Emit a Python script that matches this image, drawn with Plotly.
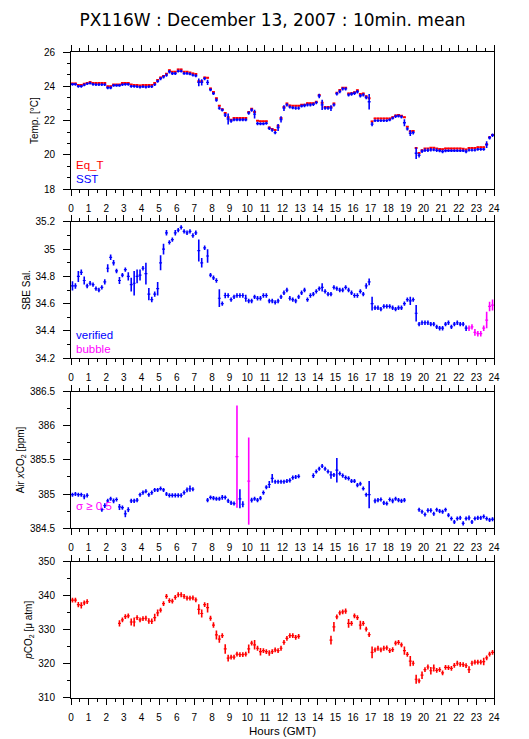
import plotly.graph_objects as go

# ---------------- data (10-minute means, 144 slots per day) ----------------
slot_hours = [(k + 0.5) / 6 for k in range(144)]
slot_half_width = [1 / 12] * 144   # each mean covers 10 minutes

eq_t = [
    24.17, 24.17, 24.08, 24.08, 24.15, 24.20,
    24.25, 24.20, 24.20, 24.20, 24.20, 24.20,
    24.00, 24.00, 24.10, 24.10, 24.10, 24.20,
    24.20, 24.20, 24.10, 24.08, 24.08, 24.05,
    24.07, 24.07, 24.07, 24.07, 24.20, 24.37,
    24.52, 24.60, 24.73, 24.94, 24.85, 24.85,
    24.98, 24.98, 24.85, 24.85, 24.80, 24.75,
    24.72, 24.30, 24.30, 24.52, 24.50, 23.87,
    23.67, 23.30, 22.87, 22.67, 22.45, 22.20,
    22.05, 22.15, 22.15, 22.15, 22.15, 22.15,
    22.50, 22.70, 22.50, 22.00, 21.96, 21.96,
    21.96, 21.60, 21.52, 21.45, 21.70, 22.15,
    22.80, 23.00, 22.88, 22.87, 22.87, 22.87,
    22.93, 22.93, 23.02, 23.02, 23.02, 23.10,
    23.50, 23.04, 22.80, 22.80, 22.80, 23.00,
    23.63, 23.78, 23.92, 23.92, 23.58, 23.60,
    23.65, 23.77, 23.55, 23.58, 23.42, 23.30,
    21.95, 22.13, 22.13, 22.13, 22.13, 22.13,
    22.13, 22.20, 22.30, 22.33, 22.28, 22.20,
    21.65, 21.38, 21.40, 20.40, 20.12, 20.27,
    20.37, 20.37, 20.42, 20.42, 20.37, 20.35,
    20.33, 20.38, 20.38, 20.38, 20.38, 20.38,
    20.38, 20.36, 20.32, 20.40, 20.40, 20.40,
    20.45, 20.45, 20.45, 20.62, 21.03, 21.17,
]
eq_t_sd = [0.04] * 144

sst = [
    24.12, 24.12, 24.00, 24.00, 24.08, 24.15,
    24.18, 24.12, 24.10, 24.10, 24.10, 24.10,
    23.92, 23.92, 24.05, 24.05, 24.05, 24.10,
    24.12, 24.12, 24.00, 24.00, 23.98, 23.96,
    23.98, 23.96, 23.98, 23.98, 24.10, 24.30,
    24.45, 24.55, 24.65, 24.85, 24.75, 24.75,
    24.88, 24.88, 24.75, 24.75, 24.72, 24.65,
    24.62, 24.23, 24.23, 24.45, 24.23, 23.80,
    23.58, 23.20, 22.73, 22.62, 22.33, 22.10,
    21.98, 22.05, 22.05, 22.05, 22.05, 22.05,
    22.45, 22.62, 22.38, 21.83, 21.82, 21.82,
    21.85, 21.55, 21.45, 21.30, 21.60, 22.07,
    22.73, 22.92, 22.80, 22.75, 22.73, 22.73,
    22.85, 22.88, 22.92, 22.92, 22.95, 23.05,
    23.44, 22.92, 22.73, 22.73, 22.73, 22.92,
    23.57, 23.70, 23.85, 23.85, 23.50, 23.55,
    23.60, 23.68, 23.45, 23.50, 23.35, 23.10,
    21.80, 22.00, 22.00, 22.00, 22.00, 22.00,
    22.05, 22.15, 22.25, 22.27, 22.22, 21.88,
    21.52, 21.27, 21.30, 20.10, 19.98, 20.22,
    20.27, 20.27, 20.30, 20.30, 20.27, 20.25,
    20.20, 20.25, 20.25, 20.25, 20.25, 20.25,
    20.25, 20.25, 20.20, 20.28, 20.28, 20.28,
    20.33, 20.33, 20.33, 20.60, 21.00, 21.15,
]
sst_sd = [
    .08, .08, .08, .08, .08, .08,
    .08, .08, .08, .08, .08, .08,
    .09, .09, .08, .08, .08, .08,
    .08, .08, .08, .08, .08, .08,
    .08, .08, .08, .08, .08, .09,
    .09, .09, .09, .10, .09, .09,
    .08, .08, .08, .08, .08, .08,
    .09, .22, .18, .09, .16, .09,
    .09, .10, .10, .09, .12, .32,
    .10, .09, .09, .09, .09, .09,
    .10, .10, .25, .10, .09, .09,
    .09, .09, .09, .09, .20, .18,
    .17, .10, .09, .09, .09, .09,
    .09, .10, .09, .09, .09, .09,
    .13, .30, .09, .09, .17, .09,
    .10, .10, .10, .10, .10, .10,
    .10, .10, .10, .10, .10, .45,
    .12, .08, .08, .08, .08, .08,
    .08, .08, .09, .09, .09, .20,
    .10, .17, .10, .33, .12, .10,
    .10, .10, .10, .09, .10, .09,
    .10, .09, .08, .08, .08, .08,
    .08, .08, .10, .08, .08, .08,
    .08, .08, .08, .20, .10, .10,
]

salinity = [
    34.73, 34.73, 34.80, 34.83, 34.77, 34.73,
    34.75, 34.74, 34.71, 34.70, 34.72, 34.76,
    34.86, 34.94, 34.90, 34.84, 34.77, 34.81,
    34.85, 34.80, 34.74, 34.75, 34.80, 34.81,
    34.86, 34.82, 34.67, 34.63, 34.67, 34.71,
    34.90, 35.00, 35.12, 35.05, 35.07, 35.12,
    35.14, 35.16, 35.13, 35.12, 35.13, 35.10,
    35.12, 34.99, 34.90, 35.01, 34.95, 34.81,
    34.79, 34.77, 34.64, 34.60, 34.66, 34.66,
    34.63, 34.65, 34.66, 34.66, 34.66, 34.64,
    34.62, 34.62, 34.65, 34.64, 34.64, 34.66,
    34.66, 34.62, 34.62, 34.61, 34.62, 34.65,
    34.68, 34.70, 34.64, 34.63, 34.62, 34.65,
    34.68, 34.70, 34.63, 34.66, 34.67, 34.69,
    34.71, 34.72, 34.69, 34.67, 34.67, 34.72,
    34.71, 34.70, 34.70, 34.72, 34.70, 34.68,
    34.66, 34.66, 34.69, 34.67, 34.73, 34.76,
    34.60, 34.57, 34.57, 34.56, 34.58, 34.58,
    34.58, 34.57, 34.56, 34.57, 34.57, 34.60,
    34.63, 34.62, 34.63, 34.53, 34.45, 34.46,
    34.46, 34.46, 34.45, 34.45, 34.43, 34.42,
    34.42, 34.45, 34.46, 34.43, 34.45, 34.46,
    34.45, 34.45, 34.42, 34.42, 34.43, 34.39,
    34.38, 34.38, 34.42, 34.48, 34.58, 34.59,
]
salinity_sd = [
    .034, .02, .04, .02, .03, .016,
    .016, .016, .016, .016, .016, .02,
    .03, .02, .02, .016, .025, .016,
    .016, .03, .05, .09, .05, .04,
    .016, .08, .045, .02, .02, .05,
    .055, .04, .02, .016, .016, .02,
    .016, .016, .016, .016, .016, .016,
    .016, .08, .035, .016, .05, .016,
    .016, .016, .065, .016, .02, .016,
    .016, .016, .016, .016, .016, .025,
    .016, .016, .016, .016, .016, .016,
    .016, .016, .016, .016, .016, .016,
    .016, .016, .016, .016, .016, .016,
    .016, .016, .016, .016, .016, .016,
    .016, .03, .016, .016, .016, .016,
    .016, .016, .016, .016, .016, .016,
    .016, .016, .016, .016, .02, .025,
    .05, .016, .016, .016, .016, .016,
    .016, .016, .016, .016, .016, .016,
    .016, .03, .016, .06, .016, .016,
    .016, .016, .016, .016, .016, .016,
    .016, .016, .016, .016, .016, .016,
    .016, .016, .02, .02, .02, .025,
    .02, .02, .02, .06, .035, .04,
]
# 'v' = verified, 'b' = bubble
salinity_flag = "v" * 135 + "b" * 9

N = None
air_xco2 = [
    384.99, 385.00, 384.99, 384.99, 384.96, 384.98,
    N, N, N, N, 384.77, 384.83,
    384.90, 384.93, 384.90, 384.92, 384.81, 384.80,
    384.71, 384.77, 384.90, 384.90, 384.91, 384.99,
    385.02, 385.04, 384.99, 385.02, 385.06, 385.06,
    385.08, 385.06, 385.00, 384.98, 384.98, 384.98,
    384.98, 384.98, 385.02, 385.06, 385.08, 385.07,
    N, N, N, N, 384.91, 384.95,
    384.94, 384.93, 384.93, 384.95, 384.95, 384.90,
    384.87, 384.86, 385.55, 384.93, 384.85, N,
    385.19, 384.91, 384.93, 384.91, 384.94, 385.02,
    385.10, 385.14, 385.23, 385.18, 385.18, 385.18,
    385.18, 385.19, 385.20, 385.24, 385.25, 385.26,
    N, N, N, N, 385.27, 385.33,
    385.37, 385.41, 385.37, 385.33, 385.28, 385.28,
    385.35, 385.30, 385.27, 385.24, 385.23, 385.19,
    385.19, 385.13, 385.15, 385.08, 384.99, 384.99,
    N, 384.90, 384.91, 384.92, 384.87, 384.86,
    384.92, 384.90, 384.93, 384.91, 384.90, 384.91,
    N, N, N, N, 384.77, 384.74,
    384.70, 384.76, 384.76, 384.71, 384.77, 384.75,
    384.74, 384.77, 384.69, 384.64, 384.59, 384.64,
    384.65, 384.57, 384.64, 384.65, 384.59, 384.64,
    384.65, 384.65, 384.67, 384.64, 384.62, 384.63,
]
air_xco2_sd = [
    .03, .03, .03, .03, .035, .03,
    0, 0, 0, 0, .03, .035,
    .03, .03, .035, .03, .045, .03,
    .05, .035, .03, .03, .03, .03,
    .03, .03, .03, .03, .03, .03,
    .03, .03, .03, .03, .03, .03,
    .03, .03, .03, .035, .045, .03,
    0, 0, 0, 0, .03, .03,
    .03, .03, .03, .035, .03, .03,
    .03, .03, .75, .14, .045, 0,
    .64, .035, .03, .03, .03, .03,
    .03, .05, .065, .03, .03, .03,
    .03, .03, .03, .03, .03, .03,
    0, 0, 0, 0, .035, .03,
    .03, .03, .03, .03, .055, .03,
    .18, .03, .03, .03, .03, .03,
    .03, .03, .03, .03, .03, .20,
    0, .035, .03, .03, .03, .03,
    .03, .035, .03, .03, .03, .03,
    0, 0, 0, 0, .03, .03,
    .03, .03, .03, .03, .03, .03,
    .03, .03, .03, .03, .03, .03,
    .03, .03, .03, .035, .03, .03,
    .03, .03, .03, .03, .03, .03,
]
sigma_limit = 0.5

pco2 = [
    338.7, 338.7, 337.4, 337.2, 337.9, 338.3,
    N, N, N, N, N, N,
    N, N, N, N, 331.9, 332.9,
    333.9, 334.1, 332.3, 332.3, 333.6, 332.9,
    333.3, 333.4, 332.6, 332.5, 333.6, 335.0,
    335.8, 337.7, 339.8, 338.6, 338.4, 339.5,
    340.3, 340.3, 339.8, 339.3, 339.3, 339.4,
    338.8, 336.0, 334.8, 337.4, 336.5, 333.4,
    331.4, 328.5, 327.3, 328.3, 324.4, 321.7,
    322.0, 322.0, 322.9, 322.7, 322.7, 322.9,
    324.4, 326.1, 325.6, 324.6, 323.6, 323.9,
    323.6, 323.2, 323.6, 324.1, 323.9, 324.6,
    326.3, 327.5, 328.3, 328.3, 327.8, 328.1,
    N, N, N, N, N, N,
    N, N, N, N, 327.0, 330.9,
    333.8, 335.0, 335.3, 335.5, 331.9, 331.9,
    334.1, 333.6, 331.4, 331.9, 330.2, 328.6,
    323.4, 324.1, 324.6, 324.1, 324.6, 324.7,
    323.9, 324.2, 326.1, 326.3, 325.6, 323.9,
    322.8, 320.8, 320.2, 315.5, 315.0, 316.7,
    318.3, 319.1, 318.0, 318.8, 318.1, 318.3,
    317.4, 319.0, 318.9, 318.7, 319.6, 320.2,
    319.9, 319.8, 319.5, 318.3, 320.2, 320.5,
    320.5, 320.5, 320.7, 321.8, 322.9, 323.4,
]
pco2_sd = [
    .7, .7, .8, .9, .7, .7,
    0, 0, 0, 0, 0, 0,
    0, 0, 0, 0, .9, .7,
    .7, .7, 1.0, 1.3, .7, .7,
    .7, .7, .8, .8, 1.1, 1.0,
    .7, .7, .7, .7, .7, .7,
    .7, .7, .7, .7, .7, .7,
    .7, 1.5, 1.2, .7, 1.4, .7,
    .8, 1.3, 1.1, .7, 1.4, 1.0,
    .7, .7, .7, .7, .7, .7,
    1.3, .7, 1.4, .7, 1.1, .7,
    .7, .8, .7, .7, .7, .7,
    .7, .7, .7, .7, .7, .7,
    0, 0, 0, 0, 0, 0,
    0, 0, 0, 0, 1.3, 1.4,
    .7, .7, .7, .8, 1.3, .7,
    .7, .7, 1.3, .7, .7, .7,
    1.7, .7, .7, .7, .7, .7,
    .7, .7, .7, .7, .7, 1.2,
    .7, 1.5, .7, 1.3, .7, 1.1,
    .7, .7, 1.1, 1.0, .7, .7,
    .7, .7, .7, .7, .7, .7,
    .7, .7, .7, 1.0, .7, .7,
    .7, .7, 1.1, .7, .7, .7,
]

hour_ticks = list(range(0, 25))

# ---------------- styling ----------------
RED = "#ff0000"
BLUE = "#0000ff"
MAGENTA = "#ff00ff"
TICK_FONT = dict(family="Liberation Sans", size=10, color="black")
TITLE_FONT = dict(family="Liberation Sans", size=10, color="black")


def crosses(y, sd, color, xa, ya, hthick=1.2, vthick=1.6):
    return go.Scatter(
        x=slot_hours, y=y, mode="markers",
        marker=dict(size=1, color=color, opacity=0),
        error_x=dict(type="data", array=slot_half_width, symmetric=True,
                     width=0, thickness=hthick, color=color),
        error_y=dict(type="data", array=sd, symmetric=True,
                     width=0, thickness=vthick, color=color),
        xaxis=xa, yaxis=ya, showlegend=False, hoverinfo="skip",
    )


fig = go.Figure()

# Panel 1: temperatures
fig.add_trace(crosses(eq_t, eq_t_sd, RED, "x", "y", hthick=2.0, vthick=1.6))
fig.add_trace(crosses(sst, sst_sd, BLUE, "x", "y", hthick=1.4, vthick=1.6))

# Panel 2: salinity
sal_v = [v if f == "v" else None for v, f in zip(salinity, salinity_flag)]
sal_b = [v if f == "b" else None for v, f in zip(salinity, salinity_flag)]
fig.add_trace(crosses(sal_v, salinity_sd, BLUE, "x2", "y2"))
fig.add_trace(crosses(sal_b, salinity_sd, MAGENTA, "x2", "y2"))

# Panel 3: air xCO2
air_ok = [v if (v is not None and s < sigma_limit) else None for v, s in zip(air_xco2, air_xco2_sd)]
air_bad = [v if (v is not None and s >= sigma_limit) else None for v, s in zip(air_xco2, air_xco2_sd)]
fig.add_trace(crosses(air_ok, air_xco2_sd, BLUE, "x3", "y3"))
fig.add_trace(crosses(air_bad, air_xco2_sd, MAGENTA, "x3", "y3"))

# Panel 4: pCO2
fig.add_trace(crosses(pco2, pco2_sd, RED, "x4", "y4"))

# ---------------- layout ----------------
H_PLOT = 654.0
def dom(top_px, bot_px):
    return [(698 - bot_px) / H_PLOT, (698 - top_px) / H_PLOT]

panels = [
    dict(dom=dom(44, 183), rng=[18, 26], dt=2, mdt=2 / 3, t0=18,
         title="Temp. [°C]"),
    dict(dom=dom(216, 354), rng=[34.2, 35.2], dt=0.2, mdt=0.1, t0=34.2,
         title="SBE Sal."),
    dict(dom=dom(388, 526), rng=[384.5, 386.5], dt=0.5, mdt=0.25, t0=384.5,
         title="Air <i>x</i>CO<sub>2</sub> [ppm]"),
    dict(dom=dom(560, 698), rng=[310, 350], dt=10, mdt=5, t0=310,
         title="<i>p</i>CO<sub>2</sub> [μ atm]"),
]

layout = dict(
    width=529, height=739,
    margin=dict(l=58, r=43, t=44, b=41),
    paper_bgcolor="white", plot_bgcolor="white",
    showlegend=False,
    title=dict(text="PX116W : December 13, 2007 : 10min. mean",
               font=dict(family="DejaVu Sans", size=17, color="black"),
               x=0.5, xref="container", xanchor="center",
               y=1 - 12 / 739, yref="container", yanchor="middle"),
)

for i, p in enumerate(panels, start=1):
    sfx = "" if i == 1 else str(i)
    xa = dict(
        domain=[0, 1], range=[0, 24], anchor="y" + sfx,
        tickmode="array", tickvals=hour_ticks, ticktext=[str(h) for h in hour_ticks],
        ticks="outside", ticklen=6, tickwidth=1, tickcolor="black",
        minor=dict(tickmode="linear", tick0=0, dtick=0.5, ticks="outside",
                   ticklen=3, tickwidth=1, tickcolor="black", showgrid=False),
        mirror="allticks", showline=True, linecolor="black", linewidth=1,
        showgrid=False, zeroline=False, tickfont=TICK_FONT,
        ticklabelstandoff=4, fixedrange=True,
    )
    if i == 4:
        xa["title"] = dict(text="Hours (GMT)",
                           font=dict(family="Liberation Sans", size=11.5, color="black"),
                           standoff=4)
    layout["xaxis" + sfx] = xa
    layout["yaxis" + sfx] = dict(
        domain=p["dom"], range=p["rng"], anchor="x" + sfx,
        tickmode="linear", tick0=p["t0"], dtick=p["dt"],
        ticks="outside", ticklen=7, tickwidth=1, tickcolor="black",
        minor=dict(tickmode="linear", tick0=p["t0"], dtick=p["mdt"], ticks="outside",
                   ticklen=3, tickwidth=1, tickcolor="black", showgrid=False),
        mirror=True, showline=True, linecolor="black", linewidth=1,
        showgrid=False, zeroline=False, tickfont=TICK_FONT,
        ticklabelstandoff=6, fixedrange=True,
        title=dict(text=p["title"], font=TITLE_FONT, standoff=3),
    )
    layout["yaxis" + str(i + 4)] = dict(
        overlaying="y" + sfx, side="right", anchor="x" + sfx,
        range=p["rng"], tickmode="linear", tick0=p["t0"], dtick=p["dt"],
        ticks="outside", ticklen=7, tickwidth=1, tickcolor="black",
        minor=dict(tickmode="linear", tick0=p["t0"], dtick=p["mdt"], ticks="outside",
                   ticklen=3, tickwidth=1, tickcolor="black", showgrid=False),
        showline=False, showgrid=False, zeroline=False, tickfont=TICK_FONT,
        ticklabelstandoff=4, fixedrange=True,
    )

fig.update_layout(**layout)

# in-panel legends
legend_notes = [
    ("Eq_T", RED, "x domain", "y domain", 0.18),
    ("SST", BLUE, "x domain", "y domain", 0.075),
    ("verified", BLUE, "x2 domain", "y2 domain", 0.172),
    ("bubble", MAGENTA, "x2 domain", "y2 domain", 0.068),
    ("σ ≥ 0.5", MAGENTA, "x3 domain", "y3 domain", 0.159),
]
for text, color, xr, yr, yy in legend_notes:
    fig.add_annotation(text=text, x=0.007, y=yy, xref=xr, yref=yr,
                       xanchor="left", yanchor="middle", showarrow=False,
                       font=dict(family="Liberation Sans", size=11.5, color=color))

fig.write_html("out.html")
